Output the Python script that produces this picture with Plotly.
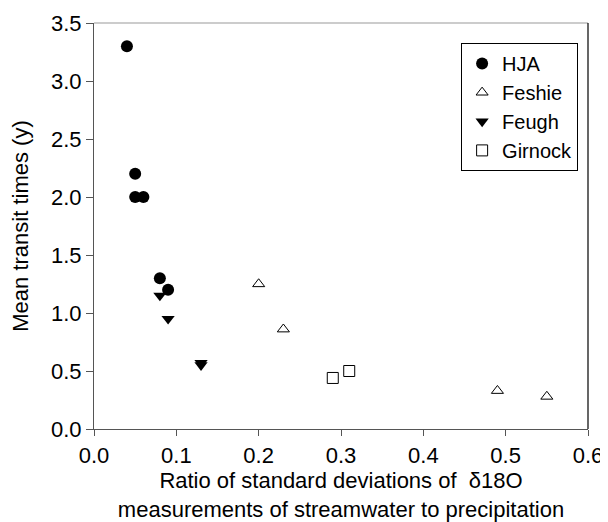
import plotly.graph_objects as go

hja_x = [0.04, 0.05, 0.05, 0.06, 0.08, 0.09]
hja_y = [3.3, 2.2, 2.0, 2.0, 1.3, 1.2]
feshie_x = [0.20, 0.23, 0.49, 0.55]
feshie_y = [1.25, 0.86, 0.33, 0.28]
feugh_x = [0.08, 0.09, 0.13, 0.13]
feugh_y = [1.15, 0.95, 0.57, 0.55]
girnock_x = [0.29, 0.31]
girnock_y = [0.44, 0.50]

x_ticks = [0.0, 0.1, 0.2, 0.3, 0.4, 0.5, 0.6]
y_ticks = [0.0, 0.5, 1.0, 1.5, 2.0, 2.5, 3.0, 3.5]

font = "Liberation Sans, Arial, sans-serif"

fig = go.Figure()
fig.add_trace(go.Scatter(x=hja_x, y=hja_y, mode="markers", name="HJA", legendgroup="a",
                         marker=dict(symbol="circle", size=12, color="black")))
fig.add_trace(go.Scatter(x=feshie_x, y=feshie_y, mode="markers", name="Feshie", legendgroup="b",
                         marker=dict(symbol="triangle-up-open", size=10.5, color="black",
                                     line=dict(width=1, color="black"))))
fig.add_trace(go.Scatter(x=feugh_x, y=feugh_y, mode="markers", name="Feugh", legendgroup="c",
                         marker=dict(symbol="triangle-down", size=11.5, color="black")))
fig.add_trace(go.Scatter(x=girnock_x, y=girnock_y, mode="markers", name="Girnock", legendgroup="d",
                         marker=dict(symbol="square-open", size=11, color="black",
                                     line=dict(width=1, color="black"))))

fig.update_layout(
    width=600, height=514,
    margin=dict(l=86, r=20, t=15, b=93),
    paper_bgcolor="white", plot_bgcolor="white",
    font=dict(family=font, color="black"),
    showlegend=True,
    legend=dict(x=0.98, y=0.951, xanchor="right", yanchor="top",
                bordercolor="black", borderwidth=1, bgcolor="white",
                font=dict(size=20, family=font), tracegroupgap=0,
                itemwidth=30),
    shapes=[
        dict(type="line", xref="paper", yref="paper", x0=0, x1=1, y0=1, y1=1,
             line=dict(color="#999999", width=1.2)),
        dict(type="line", xref="paper", yref="paper", x0=1, x1=1, y0=0, y1=1,
             line=dict(color="black", width=1.2)),
    ],
)
fig.update_xaxes(
    range=[0, 0.6], tickvals=x_ticks, ticktext=[f"{v:.1f}" for v in x_ticks],
    showgrid=False, zeroline=False, showline=True, linecolor="#555555", linewidth=1.2,
    ticks="outside", ticklen=6, tickcolor="#555555", automargin=False,
    tickfont=dict(size=22, family=font),
    title=dict(text="Ratio of standard deviations of  δ18O<br>measurements of streamwater to precipitation",
               font=dict(size=22, family=font), standoff=10),
)
fig.update_yaxes(
    range=[0, 3.5], tickvals=y_ticks, ticktext=[f"{v:.1f}" for v in y_ticks],
    showgrid=False, zeroline=False, showline=True, linecolor="#555555", linewidth=1.2,
    ticks="outside", ticklen=7, tickcolor="#555555", automargin=False,
    tickfont=dict(size=22, family=font),
    title=dict(text="Mean transit times (y)", font=dict(size=22, family=font), standoff=17),
)

fig.write_html("out.html")
